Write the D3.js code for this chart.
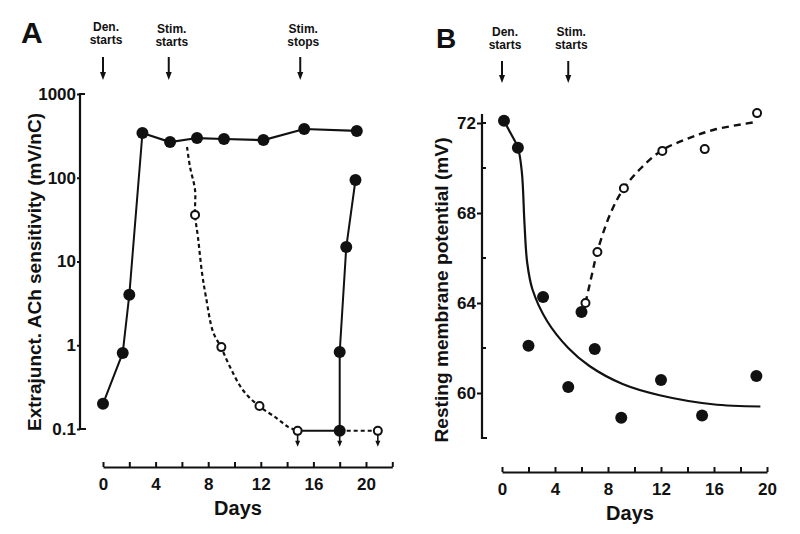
<!DOCTYPE html>
<html><head><meta charset="utf-8">
<script src="https://cdn.jsdelivr.net/npm/d3@7"></script>
<style>
html,body{margin:0;padding:0;background:#fff;}
text{font-family:"Liberation Sans",Arial,Helvetica,sans-serif;font-weight:bold;fill:#111;}
</style></head>
<body><svg id="c" width="800" height="534"></svg>
<script>
// ---------- Panel A data ----------
const aDenDays = [0, 1.5, 2, 3];
const aDenVals = [0.2, 0.81, 4.0, 342];
const aPlateauDays = [3, 5.1, 7.15, 9.2, 12.2, 15.3, 19.3];
const aPlateauVals = [342, 267, 298, 290, 282, 382, 362];
const aRecoveryDays = [18, 18, 18.5, 19.2];
const aRecoveryVals = [0.095, 0.83, 14.9, 94];
const aOpenDays = [7.0, 9.0, 11.9, 14.8, 20.9];
const aOpenVals = [36, 0.95, 0.188, 0.095, 0.095];
const aDecayCurveDays = [6.39, 6.62, 7.0, 7.0, 7.22, 7.53, 7.83, 8.37, 8.97, 9.66, 10.65, 11.86, 13.2, 14.07, 14.83];
const aDecayCurveVals = [233, 134, 71, 36, 19.6, 7.3, 3.77, 1.44, 0.95, 0.55, 0.29, 0.188, 0.135, 0.106, 0.095];
const aBelowDays = [14.8, 18, 20.9];   // points at or below detection (arrows)
const aYTicks = [0.1, 1, 10, 100, 1000];
const aXTicks = [0, 2, 4, 6, 8, 10, 12, 14, 16, 18, 20, 22];
const aEvents = [{day: 0, l1: "Den.", l2: "starts"}, {day: 5, l1: "Stim.", l2: "starts"}, {day: 15, l1: "Stim.", l2: "stops"}];

// ---------- Panel B data ----------
const bFilledDays = [0.15, 1.2, 2.0, 3.1, 5.0, 6.0, 7.0, 9.0, 12.0, 15.1, 19.2];
const bFilledVals = [72.1, 70.9, 62.1, 64.27, 60.27, 63.6, 61.96, 58.9, 60.58, 59.0, 60.76];
const bOpenDays = [6.3, 7.2, 9.2, 12.1, 15.3, 19.25];
const bOpenVals = [64.0, 66.27, 69.1, 70.76, 70.84, 72.44];
const bFitDays = [0.15, 0.6, 1.2, 1.5, 1.7, 1.9, 2.3, 3.4, 5.0, 6.6, 9.1, 11.9, 15.9, 19.5];
const bFitVals = [72.1, 71.6, 70.9, 69.8, 67.5, 65.8, 64.6, 63.2, 62.0, 61.2, 60.4, 59.9, 59.5, 59.4];
const bStimFitDays = [6.3, 6.8, 7.2, 8.2, 9.2, 10.5, 12.1, 14, 16, 19.2];
const bStimFitVals = [64.0, 65.3, 66.3, 68.0, 69.1, 70.0, 70.8, 71.3, 71.7, 72.05];
const bYTicks = [60, 64, 68, 72];
const bYMinor = [62, 66, 70];
const bXTicks = [0, 2, 4, 6, 8, 10, 12, 14, 16, 18, 20];
const bEvents = [{day: 0, l1: "Den.", l2: "starts"}, {day: 5, l1: "Stim.", l2: "starts"}];

const svg = d3.select("#c");
svg.append("rect").attr("width", 800).attr("height", 534).attr("fill", "#fff");
const ink = "#111";
const FONT = "Liberation Sans, Arial, sans-serif";

function zip(a, b) { return a.map((d, i) => [d, b[i]]); }

function arrow(g, x, y1, y2, hw, hh, sw) {
  g.append("line").attr("x1", x).attr("x2", x).attr("y1", y1).attr("y2", y2 - hh + 1)
    .attr("stroke", ink).attr("stroke-width", sw);
  g.append("path").attr("d", `M${x - hw / 2},${y2 - hh} L${x + hw / 2},${y2 - hh} L${x},${y2} Z`).attr("fill", ink);
}

function events(g, list, x, yDen, yStim, arrowTop, arrowBot) {
  list.forEach(e => {
    const cx = x(e.day);
    const y0 = e.l1 === "Den." ? yDen : yStim;
    g.append("text").attr("x", cx + 3).attr("y", y0).attr("text-anchor", "middle").attr("font-size", 12).text(e.l1);
    g.append("text").attr("x", cx + 3).attr("y", y0 + 13).attr("text-anchor", "middle").attr("font-size", 12).text(e.l2);
    arrow(g, cx, arrowTop, arrowBot, 6, 8, 2);
  });
}

function styleAxis(sel, fs) {
  sel.selectAll("line").attr("stroke", ink).attr("stroke-width", 2);
  sel.selectAll("text").attr("font-size", fs).attr("font-family", FONT).attr("font-weight", "bold").attr("fill", ink);
}

// ================= Panel A =================
const xA = d3.scaleLinear().domain([0, 22]).range([103, 392.3]);
const yA = d3.scaleLog().domain([0.1, 1000]).range([429, 94]);
const gA = svg.append("g");

gA.append("text").attr("x", 21).attr("y", 43).attr("font-size", 30).text("A");
events(gA, aEvents, xA, 31, 33, 57, 80);

const yAxA = d3.axisLeft(yA).tickValues(aYTicks).tickFormat(d3.format("")).tickSize(3).tickPadding(1);
const gyA = gA.append("g").attr("transform", "translate(80,0)").call(yAxA);
gyA.select(".domain").remove();
styleAxis(gyA, 17);
gA.append("path").attr("d", `M85,${yA(1000)} H80 V${yA(0.1)} H86`).attr("fill", "none").attr("stroke", ink).attr("stroke-width", 2.2);
gA.append("text").attr("transform", `translate(41,272) rotate(-90)`)
  .attr("text-anchor", "middle").attr("font-size", 18).attr("textLength", 318).attr("lengthAdjust", "spacingAndGlyphs")
  .text("Extrajunct. ACh sensitivity (mV/nC)");

const xAxA = d3.axisBottom(xA).tickValues(aXTicks).tickFormat(d => d % 4 === 0 && d <= 20 ? d : "")
  .tickSizeInner(-5).tickSizeOuter(0).tickPadding(11);
const gxA = gA.append("g").attr("transform", "translate(0,467)").call(xAxA);
gxA.select(".domain").attr("stroke", ink).attr("stroke-width", 2.2);
styleAxis(gxA, 17);
gA.append("text").attr("x", 238).attr("y", 515).attr("text-anchor", "middle").attr("font-size", 20).text("Days");

const lineA = d3.line().x(d => xA(d[0])).y(d => yA(d[1]));
gA.append("path").attr("d", lineA(zip(aDenDays, aDenVals))).attr("fill", "none").attr("stroke", ink).attr("stroke-width", 2);
gA.append("path").attr("d", lineA(zip(aPlateauDays, aPlateauVals))).attr("fill", "none").attr("stroke", ink).attr("stroke-width", 2.2);
gA.append("path").attr("d", lineA(zip(aRecoveryDays, aRecoveryVals))).attr("fill", "none").attr("stroke", ink).attr("stroke-width", 2);
const curveA = d3.line().x(d => xA(d[0])).y(d => yA(d[1])).curve(d3.curveCatmullRom);
gA.append("path").attr("d", curveA(zip(aDecayCurveDays, aDecayCurveVals))).attr("fill", "none").attr("stroke", ink).attr("stroke-width", 2.2).attr("stroke-dasharray", "4,3");
gA.append("path").attr("d", lineA([[aOpenDays[3], aOpenVals[3]], [aRecoveryDays[0], aRecoveryVals[0]]])).attr("fill", "none").attr("stroke", ink).attr("stroke-width", 2);
gA.append("path").attr("d", lineA([[aRecoveryDays[0], aRecoveryVals[0]], [aOpenDays[4], aOpenVals[4]]])).attr("fill", "none").attr("stroke", ink).attr("stroke-width", 2).attr("stroke-dasharray", "4,3");
aBelowDays.forEach(d => arrow(gA, xA(d), yA(0.095) + 4, yA(0.095) + 16, 5, 6, 1.6));

const aFilled = zip(aDenDays, aDenVals).concat(zip(aPlateauDays, aPlateauVals).slice(1)).concat(zip(aRecoveryDays, aRecoveryVals));
gA.selectAll(".fa").data(aFilled).join("circle").attr("cx", d => xA(d[0])).attr("cy", d => yA(d[1])).attr("r", 6).attr("fill", ink);
gA.selectAll(".oa").data(zip(aOpenDays, aOpenVals)).join("circle").attr("cx", d => xA(d[0])).attr("cy", d => yA(d[1]))
  .attr("r", 4).attr("fill", "#fff").attr("stroke", ink).attr("stroke-width", 2);

// ================= Panel B =================
const xB = d3.scaleLinear().domain([0, 20]).range([502, 767]);
const yB = d3.scaleLinear().domain([58, 72.4]).range([438, 114]);
const gB = svg.append("g");
gB.append("text").attr("x", 436).attr("y", 48).attr("font-size", 28).text("B");
events(gB, bEvents, xB, 36, 36, 61, 83);

const yAxB = d3.axisLeft(yB).tickValues(bYTicks).tickSize(5).tickPadding(1);
const gyB = gB.append("g").attr("transform", "translate(482,0)").call(yAxB);
gyB.select(".domain").remove();
styleAxis(gyB, 17);
gB.selectAll(".mn").data(bYMinor).join("line").attr("x1", 482).attr("x2", 486)
  .attr("y1", d => yB(d)).attr("y2", d => yB(d)).attr("stroke", ink).attr("stroke-width", 2);
gB.append("path").attr("d", `M486,${yB(72)} H482 M482,${yB(72.4)} V${yB(58)} H487`).attr("fill", "none").attr("stroke", ink).attr("stroke-width", 2.2);
gB.append("text").attr("transform", `translate(448,290) rotate(-90)`)
  .attr("text-anchor", "middle").attr("font-size", 18).attr("textLength", 305).attr("lengthAdjust", "spacingAndGlyphs")
  .text("Resting membrane potential (mV)");

const xAxB = d3.axisBottom(xB).tickValues(bXTicks).tickFormat(d => d % 4 === 0 ? d : "")
  .tickSizeInner(-5).tickSizeOuter(0).tickPadding(11);
const gxB = gB.append("g").attr("transform", "translate(0,472)").call(xAxB);
gxB.select(".domain").attr("stroke", ink).attr("stroke-width", 2.2);
styleAxis(gxB, 17);
gB.append("text").attr("x", 630).attr("y", 520).attr("text-anchor", "middle").attr("font-size", 20).text("Days");

const lineB = d3.line().x(d => xB(d[0])).y(d => yB(d[1])).curve(d3.curveCatmullRom);
gB.append("path").attr("d", lineB(zip(bFitDays, bFitVals))).attr("fill", "none").attr("stroke", ink).attr("stroke-width", 2.2);
gB.append("path").attr("d", lineB(zip(bStimFitDays, bStimFitVals))).attr("fill", "none").attr("stroke", ink).attr("stroke-width", 2.4).attr("stroke-dasharray", "7,5");
gB.selectAll(".fb").data(zip(bFilledDays, bFilledVals)).join("circle").attr("cx", d => xB(d[0])).attr("cy", d => yB(d[1])).attr("r", 6).attr("fill", ink);
gB.selectAll(".ob").data(zip(bOpenDays, bOpenVals)).join("circle").attr("cx", d => xB(d[0])).attr("cy", d => yB(d[1]))
  .attr("r", 4).attr("fill", "#fff").attr("stroke", ink).attr("stroke-width", 2);
</script></body></html>
